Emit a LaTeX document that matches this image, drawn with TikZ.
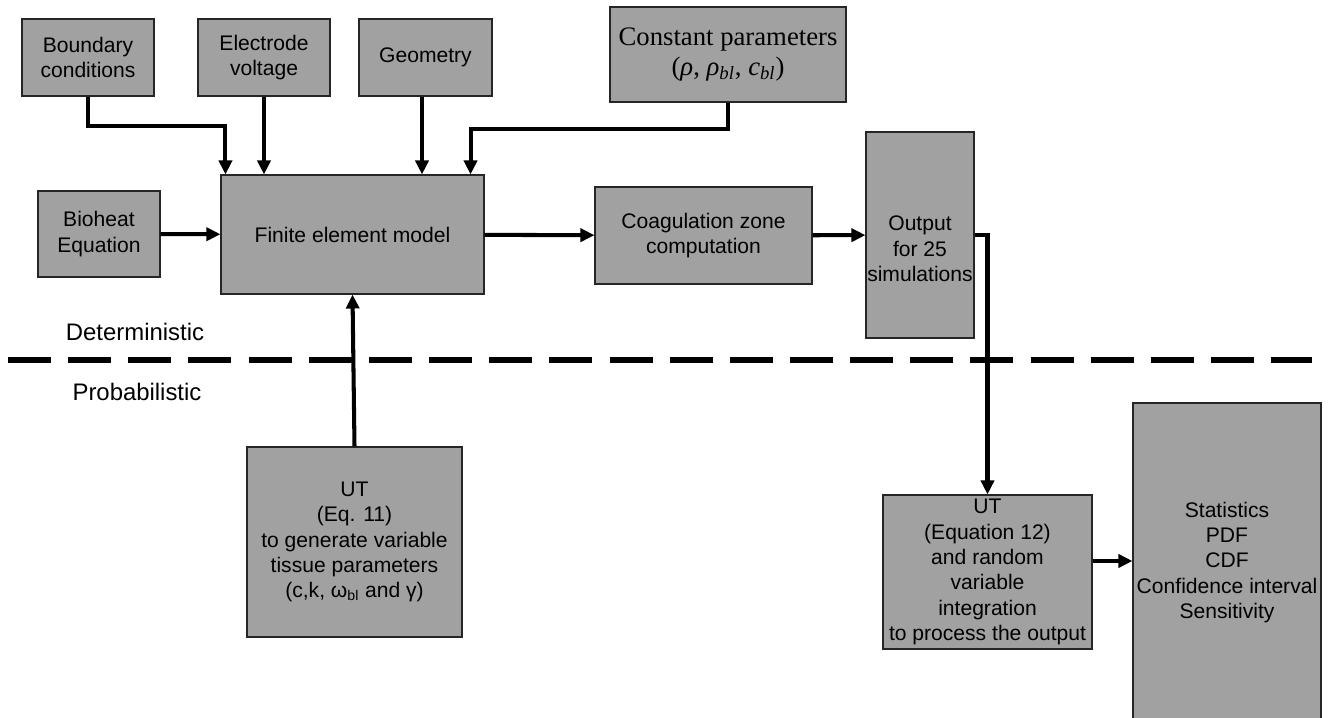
\documentclass[tikz,border=0pt]{standalone}
\usepackage{fontspec}
\setmainfont{Liberation Sans}
\newfontfamily\timesfont{Liberation Serif}
\usepackage{tikz}
\usetikzlibrary{positioning,arrows.meta,calc}
\definecolor{boxgray}{RGB}{161,161,161}

\begin{document}
\begin{tikzpicture}[
  block/.style={
    rectangle,
    draw=black!85,
    line width=0.6pt,
    fill=boxgray,
    inner sep=1pt,
    align=center,
    font=\fontsize{12}{14.4}\selectfont
  },
  link/.style={
    line width=2.3pt,
    -{Triangle[length=0.28cm,width=0.26cm]}
  },
  divider/.style={
    line width=2.9pt,
    dash pattern=on 0.86cm off 0.343cm
  }
]
 \useasboundingbox (0,0) rectangle (26.72,14.34);
  \node[block, minimum width=2.64cm, minimum height=1.54cm] (bc) at (1.76,13.19) {Boundary\\conditions};
  \node[block, minimum width=2.64cm, minimum height=1.54cm] (ev) at (5.28,13.19) {Electrode\\voltage};
  \node[block, minimum width=2.66cm, minimum height=1.54cm] (geo) at (8.51,13.19) {Geometry};
  \node[block, minimum width=4.72cm, minimum height=1.90cm, font=\timesfont\fontsize{15.2}{19.5}\selectfont] (cp) at (14.56,13.25)
    {\raisebox{-0.1cm}{Constant parameters}\\(\textit{ρ}, \textit{ρ}\textsubscript{\textit{bl}}, \textit{c}\textsubscript{\textit{bl}})};
  \node[block, minimum width=2.44cm, minimum height=1.72cm] (bio) at (1.98,9.66) {Bioheat\\Equation};
  \node[block, minimum width=5.26cm, minimum height=2.38cm] (fem) at (7.05,9.65) {Finite element model};
  \node[block, minimum width=4.34cm, minimum height=1.94cm] (coag) at (14.07,9.63) {Coagulation zone\\computation};
  \node[block, minimum width=2.16cm, minimum height=4.12cm] (out) at (18.40,9.64) {};
  \node[align=center, inner sep=0pt, font=\fontsize{12}{14.4}\selectfont] (outtext) at ([yshift=-0.28cm]out.center) {Output\\for 25\\simulations};
  \node[block, minimum width=4.30cm, minimum height=3.80cm] (ut1) at (7.09,3.50)
    {UT\\(Eq. 11)\\to generate variable\\tissue parameters\\(c,k, ω\textsubscript{bl} and γ)};
  \node[block, minimum width=4.18cm, minimum height=3.08cm] (ut2) at (19.75,2.90)
    {UT\\(Equation 12)\\and random\\variable\\integration\\to process the output};
  \node[block, minimum width=3.76cm, minimum height=6.38cm] (stats) at (24.54,3.09)
    {Statistics\\PDF\\CDF\\Confidence interval\\Sensitivity};
  \node[font=\fontsize{13.6}{16}\selectfont] (det) at (2.70,7.70) {Deterministic};
  \node[font=\fontsize{13.6}{16}\selectfont] (prob) at (2.74,6.50) {Probabilistic};
  \coordinate (dl) at (0.16,7.14);
  \coordinate (dr) at (26.24,7.14);
  \draw[divider] (dl)--(dr);
  \draw[link] (bc.south) -- ++(0,-0.58) -| ([xshift=0.1cm]fem.north west);
  \draw[link] (ev.south) -- (ev.south |- fem.north);
  \draw[link] ([xshift=-0.07cm]geo.south) -- ([xshift=-0.07cm]geo.south |- fem.north);
  \draw[link] (cp.south) -- ++(0,-0.52) -| ([xshift=-0.28cm]fem.north east);
  \draw[link] (bio)--(fem);
  \draw[link] (fem)--(coag);
  \draw[link] (coag)--(out);
  \draw[link] (out.east) -| (ut2.north);
  \draw[link] (ut1.north)--(fem.south);
  \draw[link] ([yshift=0.22cm]ut2.east) coordinate (u2) -- (u2 -| stats.west);
\end{tikzpicture}
\end{document}
